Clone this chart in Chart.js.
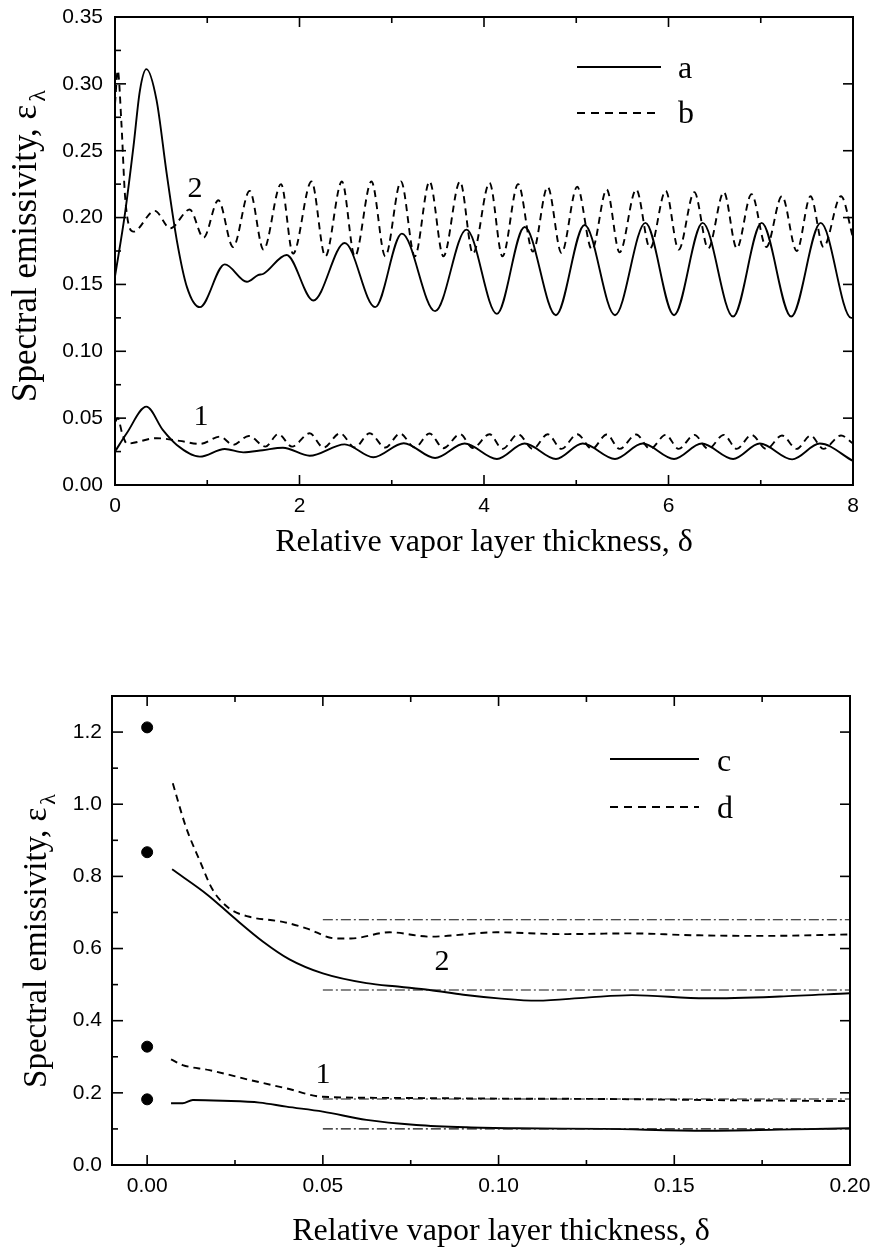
<!DOCTYPE html>
<html><head><meta charset="utf-8">
<script src="https://cdn.jsdelivr.net/npm/chart.js@4"></script>
<style>
html,body{margin:0;padding:0;background:#fff;}
#w1{position:absolute;left:0;top:0;width:876px;height:600px;}
#w2{position:absolute;left:0;top:600px;width:876px;height:649px;}
</style></head><body>
<div id="w1"><canvas id="c1" width="876" height="600"></canvas></div>
<div id="w2"><canvas id="c2" width="876" height="649"></canvas></div>
<script>
// ---------------- TOP CHART DATA ----------------
const topXTicks = [0, 2, 4, 6, 8];
const topXTickLabels = ['0', '2', '4', '6', '8'];
const topXMinor = [1, 3, 5, 7];
const topYTicks = [0, 0.05, 0.10, 0.15, 0.20, 0.25, 0.30, 0.35];
const topYTickLabels = ['0.00', '0.05', '0.10', '0.15', '0.20', '0.25', '0.30', '0.35'];
const topYMinor = [0.025, 0.075, 0.125, 0.175, 0.225, 0.275, 0.325];

// curve 2, variant a (solid)
const x2a = [0.00, 0.108, 0.20, 0.27, 0.34, 0.45, 0.56, 0.67, 0.78, 0.92, 1.19, 1.43, 1.55, 1.61, 1.86, 2.15, 2.49, 2.82, 3.11, 3.47, 3.81, 4.14, 4.44, 4.78, 5.09, 5.42, 5.75, 6.06, 6.37, 6.70, 7.01, 7.33, 7.65, 7.98, 8.00];
const y2a = [0.156, 0.203, 0.253, 0.295, 0.311, 0.288, 0.233, 0.183, 0.148, 0.133, 0.165, 0.152, 0.157, 0.158, 0.172, 0.138, 0.181, 0.133, 0.188, 0.130, 0.191, 0.128, 0.193, 0.127, 0.1945, 0.127, 0.196, 0.127, 0.196, 0.126, 0.196, 0.126, 0.196, 0.125, 0.125];
// curve 2, variant b (dashed)
const x2b = [0.00, 0.03, 0.07, 0.11, 0.20, 0.43, 0.60, 0.81, 0.96, 1.12, 1.28, 1.46, 1.61, 1.80, 1.93, 2.13, 2.28, 2.46, 2.60, 2.78, 2.93, 3.10, 3.25, 3.41, 3.56, 3.74, 3.88, 4.06, 4.20, 4.37, 4.53, 4.69, 4.84, 5.01, 5.17, 5.33, 5.47, 5.65, 5.80, 5.97, 6.11, 6.28, 6.43, 6.60, 6.74, 6.90, 7.06, 7.23, 7.39, 7.54, 7.68, 7.87, 8.00];
const y2b = [0.285, 0.310, 0.270, 0.215, 0.1895, 0.205, 0.192, 0.206, 0.185, 0.213, 0.178, 0.220, 0.176, 0.225, 0.173, 0.227, 0.171, 0.227, 0.171, 0.227, 0.171, 0.227, 0.171, 0.227, 0.171, 0.227, 0.173, 0.226, 0.171, 0.225, 0.1745, 0.223, 0.1735, 0.223, 0.176, 0.221, 0.174, 0.221, 0.177, 0.220, 0.176, 0.219, 0.177, 0.219, 0.177, 0.2175, 0.178, 0.216, 0.175, 0.216, 0.178, 0.216, 0.185];
// curve 1, variant a (solid)
const x1a = [0.00, 0.127, 0.34, 0.52, 0.67, 0.92, 1.19, 1.39, 1.60, 1.82, 2.11, 2.49, 2.80, 3.13, 3.47, 3.79, 4.14, 4.44, 4.78, 5.07, 5.42, 5.72, 6.06, 6.36, 6.70, 6.99, 7.34, 7.64, 8.00];
const y1a = [0.025, 0.0387, 0.0586, 0.041, 0.030, 0.0212, 0.0269, 0.0244, 0.026, 0.0279, 0.0219, 0.0304, 0.0207, 0.0312, 0.0202, 0.031, 0.0195, 0.031, 0.0195, 0.031, 0.0195, 0.031, 0.0195, 0.031, 0.0195, 0.031, 0.0192, 0.031, 0.018];
// curve 1, variant b (dashed)
const x1b = [0.00, 0.03, 0.08, 0.13, 0.45, 0.70, 0.92, 1.14, 1.28, 1.45, 1.63, 1.77, 1.92, 2.11, 2.26, 2.44, 2.60, 2.76, 2.93, 3.09, 3.25, 3.41, 3.56, 3.74, 3.88, 4.06, 4.20, 4.37, 4.53, 4.69, 4.84, 5.01, 5.17, 5.33, 5.47, 5.65, 5.80, 5.97, 6.11, 6.28, 6.43, 6.60, 6.74, 6.90, 7.06, 7.23, 7.39, 7.54, 7.68, 7.87, 8.00];
const y1b = [0.047, 0.050, 0.038, 0.031, 0.035, 0.033, 0.0307, 0.0362, 0.030, 0.0367, 0.0287, 0.0381, 0.0287, 0.0387, 0.028, 0.0387, 0.028, 0.0387, 0.028, 0.0385, 0.028, 0.0385, 0.0275, 0.038, 0.0277, 0.038, 0.027, 0.038, 0.027, 0.038, 0.027, 0.038, 0.027, 0.0378, 0.027, 0.0378, 0.027, 0.0375, 0.027, 0.0375, 0.027, 0.0375, 0.027, 0.0375, 0.027, 0.037, 0.027, 0.037, 0.027, 0.037, 0.031];

// ---------------- BOTTOM CHART DATA ----------------
const botXTicks = [0, 0.05, 0.10, 0.15, 0.20];
const botXTickLabels = ['0.00', '0.05', '0.10', '0.15', '0.20'];
const botXMinor = [0.025, 0.075, 0.125, 0.175];
const botYTicks = [0, 0.2, 0.4, 0.6, 0.8, 1.0, 1.2];
const botYTickLabels = ['0.0', '0.2', '0.4', '0.6', '0.8', '1.0', '1.2'];
const botYMinor = [0.1, 0.3, 0.5, 0.7, 0.9, 1.1, 1.3];

const x2c = [0.0071, 0.0173, 0.0244, 0.033, 0.0405, 0.050, 0.0624, 0.0719, 0.0804, 0.090, 0.100, 0.111, 0.125, 0.138, 0.159, 0.180, 0.200];
const y2c = [0.8195, 0.748, 0.688, 0.619, 0.570, 0.531, 0.504, 0.494, 0.485, 0.472, 0.462, 0.4555, 0.464, 0.471, 0.462, 0.467, 0.476];
const x2d = [0.0073, 0.011, 0.0149, 0.0187, 0.0234, 0.0291, 0.0386, 0.0453, 0.0538, 0.058, 0.069, 0.0804, 0.0994, 0.118, 0.1374, 0.155, 0.1754, 0.200];
const y2d = [1.058, 0.938, 0.845, 0.762, 0.711, 0.688, 0.674, 0.656, 0.628, 0.628, 0.645, 0.633, 0.645, 0.640, 0.642, 0.637, 0.635, 0.639];
const x1c = [0.0068, 0.0101, 0.013, 0.0215, 0.032, 0.0396, 0.050, 0.0624, 0.0766, 0.0909, 0.105, 0.130, 0.159, 0.180, 0.200];
const y1c = [0.171, 0.171, 0.180, 0.178, 0.173, 0.1617, 0.148, 0.125, 0.111, 0.1045, 0.1017, 0.100, 0.095, 0.098, 0.1017];
const x1d = [0.0068, 0.0101, 0.0177, 0.0291, 0.0396, 0.050, 0.070, 0.100, 0.130, 0.160, 0.200];
const y1d = [0.293, 0.277, 0.263, 0.236, 0.2125, 0.189, 0.186, 0.184, 0.183, 0.180, 0.177];
// asymptotic levels (dash-dot), drawn from x = 0.05 to 0.20
const limitX = [0.05, 0.20];
const limitLevels = [0.68, 0.485, 0.183, 0.10];
// points at delta = 0
const dotX = [0, 0, 0, 0];
const dotY = [1.213, 0.867, 0.328, 0.182];

// ---------------- helpers ----------------
const zip = (xs, ys) => xs.map((x, i) => ({x: x, y: ys[i]}));
const SANS = '"Liberation Sans", Arial, sans-serif';
const SERIF = '"Liberation Serif", "Times New Roman", serif';

function lineDs(xs, ys, dashed) {
  return {
    data: zip(xs, ys), borderColor: '#000', borderWidth: 1.9,
    borderDash: dashed ? [7, 5] : [], pointRadius: 0,
    cubicInterpolationMode: 'monotone', fill: false
  };
}

function axisPlugin(o) {
  return {
    id: 'deco',
    afterDraw(chart) {
      const ctx = chart.ctx, a = chart.chartArea;
      const xs = chart.scales.x, ys = chart.scales.y;
      ctx.save();
      ctx.strokeStyle = '#000'; ctx.lineWidth = 2; ctx.setLineDash([]);
      ctx.strokeRect(a.left, a.top, a.right - a.left, a.bottom - a.top);
      ctx.lineWidth = 1.6;
      const seg = (x1, y1, x2, y2) => { ctx.beginPath(); ctx.moveTo(x1, y1); ctx.lineTo(x2, y2); ctx.stroke(); };
      o.xMajor.forEach(v => { const p = xs.getPixelForValue(v); seg(p, a.bottom, p, a.bottom - 10); seg(p, a.top, p, a.top + 10); });
      o.xMinor.forEach(v => { const p = xs.getPixelForValue(v); seg(p, a.bottom, p, a.bottom - 5); seg(p, a.top, p, a.top + 6); });
      o.yMajor.forEach(v => { const p = ys.getPixelForValue(v); seg(a.left, p, a.left + 11, p); seg(a.right, p, a.right - 10, p); });
      o.yMinor.forEach(v => { const p = ys.getPixelForValue(v); seg(a.left, p, a.left + 6, p); });
      // x title
      ctx.fillStyle = '#000';
      ctx.font = '32px ' + SERIF; ctx.textAlign = 'center'; ctx.textBaseline = 'alphabetic';
      ctx.fillText(o.xTitle, o.xTitleX, o.xTitleY);
      // y title (rotated) with subscript lambda
      ctx.save();
      ctx.translate(o.yTitleX, o.yTitleY);
      ctx.rotate(-Math.PI / 2);
      const f1 = o.yFont + 'px ' + SERIF, f2 = Math.round(o.yFont * 0.68) + 'px ' + SERIF;
      ctx.font = f1; const w1 = ctx.measureText(o.yTitle).width;
      ctx.font = f2; const w2 = ctx.measureText(o.yTitleSub).width;
      const tot = w1 + 3 + w2;
      ctx.textAlign = 'left';
      ctx.font = f1; ctx.fillText(o.yTitle, -tot / 2, 0);
      ctx.font = f2; ctx.fillText(o.yTitleSub, -tot / 2 + w1 + 3, 9);
      ctx.restore();
      // legend
      ctx.lineWidth = 1.9;
      o.legend.forEach(l => {
        ctx.setLineDash(l.dash);
        seg(l.x1, l.y, l.x2, l.y);
        ctx.setLineDash([]);
        ctx.font = '32px ' + SERIF; ctx.textAlign = 'left';
        ctx.fillText(l.text, l.tx, l.ty);
      });
      // curve labels
      ctx.font = '30px ' + SERIF; ctx.textAlign = 'center';
      o.notes.forEach(n => ctx.fillText(n.text, n.x, n.y));
      ctx.restore();
    }
  };
}

function scaleOpts(min, max, ticks, labels, fixedSize, isX, pad) {
  return {
    type: 'linear', min: min, max: max,
    grid: {display: false, drawTicks: false}, border: {display: false},
    afterBuildTicks: s => { s.ticks = ticks.map(v => ({value: v})); },
    afterFit: s => {
      if (isX) { s.height = fixedSize; s.paddingLeft = 0; s.paddingRight = 0; }
      else { s.width = fixedSize; s.paddingTop = 0; s.paddingBottom = 0; }
    },
    ticks: {
      color: '#000', font: {family: SANS, size: 21}, padding: pad,
      autoSkip: false, maxRotation: 0,
      callback: (v, i) => labels[i]
    }
  };
}

Chart.defaults.animation = false;

new Chart(document.getElementById('c1'), {
  type: 'line',
  data: {datasets: [lineDs(x2a, y2a, false), lineDs(x2b, y2b, true), lineDs(x1a, y1a, false), lineDs(x1b, y1b, true)]},
  options: {
    responsive: false, devicePixelRatio: 1,
    layout: {padding: {left: 0, top: 17, right: 23, bottom: 0}},
    plugins: {legend: {display: false}, tooltip: {enabled: false}},
    scales: {
      x: scaleOpts(0, 8, topXTicks, topXTickLabels, 115, true, 9),
      y: scaleOpts(0, 0.35, topYTicks, topYTickLabels, 115, false, 12)
    }
  },
  plugins: [axisPlugin({
    xMajor: topXTicks, xMinor: topXMinor, yMajor: topYTicks, yMinor: topYMinor,
    xTitle: 'Relative vapor layer thickness, \u03b4', xTitleX: 484, xTitleY: 551,
    yTitle: 'Spectral emissivity, \u03b5', yTitleSub: '\u03bb', yTitleX: 36, yTitleY: 246, yFont: 35,
    legend: [
      {x1: 577, x2: 661, y: 67, dash: [], text: 'a', tx: 678, ty: 78},
      {x1: 577, x2: 661, y: 113, dash: [8, 6], text: 'b', tx: 678, ty: 123}
    ],
    notes: [{text: '2', x: 195, y: 197}, {text: '1', x: 201, y: 425}]
  })]
});

const limitDs = limitLevels.map(v => ({
  data: zip(limitX, [v, v]), borderColor: '#111', borderWidth: 1.1,
  borderDash: [10, 3, 2, 3], pointRadius: 0, fill: false
}));

new Chart(document.getElementById('c2'), {
  type: 'line',
  data: {datasets: limitDs.concat([
    lineDs(x2c, y2c, false), lineDs(x2d, y2d, true), lineDs(x1c, y1c, false), lineDs(x1d, y1d, true),
    {data: zip(dotX, dotY), showLine: false, pointRadius: 5.5, pointBackgroundColor: '#000', pointBorderColor: '#000', borderColor: '#000'}
  ])},
  options: {
    responsive: false, devicePixelRatio: 1,
    layout: {padding: {left: 0, top: 96, right: 26, bottom: 0}},
    plugins: {legend: {display: false}, tooltip: {enabled: false}},
    scales: {
      x: scaleOpts(-0.01, 0.20, botXTicks, botXTickLabels, 84, true, 9),
      y: scaleOpts(0, 1.3, botYTicks, botYTickLabels, 112, false, 10)
    }
  },
  plugins: [axisPlugin({
    xMajor: botXTicks, xMinor: botXMinor, yMajor: botYTicks, yMinor: botYMinor,
    xTitle: 'Relative vapor layer thickness, \u03b4', xTitleX: 501, xTitleY: 640,
    yTitle: 'Spectral emissivity, \u03b5', yTitleSub: '\u03bb', yTitleX: 46, yTitleY: 341, yFont: 33,
    legend: [
      {x1: 610, x2: 699, y: 159, dash: [], text: 'c', tx: 717, ty: 171},
      {x1: 610, x2: 699, y: 207, dash: [8, 6], text: 'd', tx: 717, ty: 218}
    ],
    notes: [{text: '2', x: 442, y: 370}, {text: '1', x: 323, y: 483}]
  })]
});
</script>
</body></html>
